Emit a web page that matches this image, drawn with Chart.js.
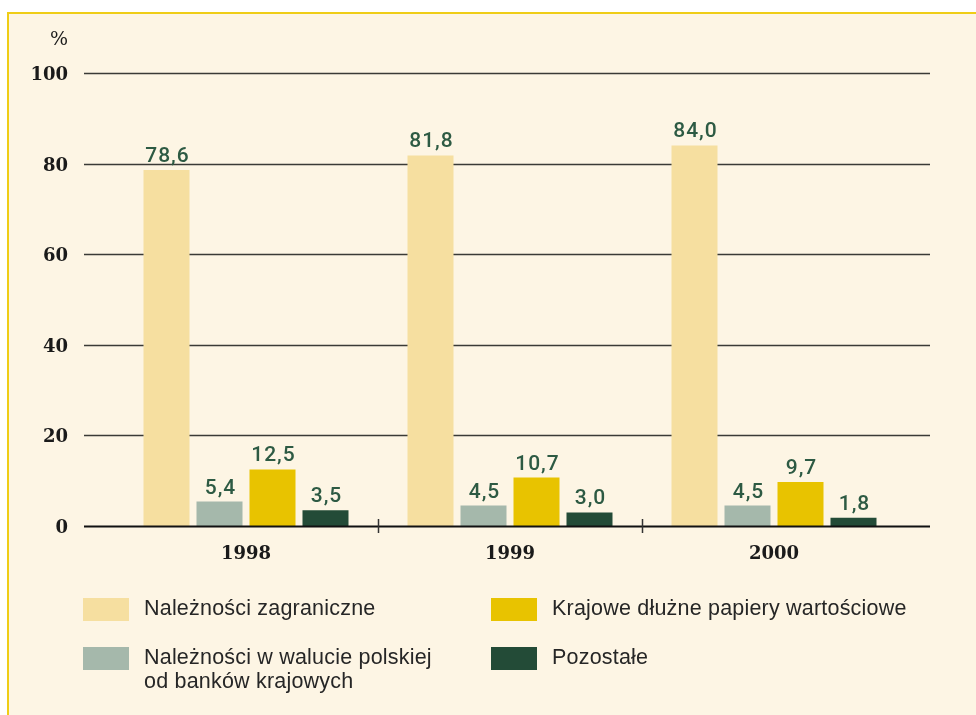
<!DOCTYPE html>
<html>
<head>
<meta charset="utf-8">
<script src="https://cdn.jsdelivr.net/npm/chart.js@4"></script>
<style>
  body { margin: 0; background: #fff; }
  canvas { display: block; }
</style>
</head>
<body>
<canvas id="myChart" width="976" height="715"></canvas>
<script>
// data
const years = ['1998', '1999', '2000'];
const zagraniczne = [78.6, 81.8, 84.0];
const walutaPolska = [5.4, 4.5, 4.5];
const dluzne = [12.5, 10.7, 9.7];
const pozostale = [3.5, 3.0, 1.8];
const yTicks = [0, 20, 40, 60, 80, 100];
const seriesNames = [
  'Należności zagraniczne',
  'Należności w walucie polskiej\nod banków krajowych',
  'Krajowe dłużne papiery wartościowe',
  'Pozostałe'
];

const SANS = '"Liberation Sans", Arial, sans-serif';
const SERIF = '"DejaVu Serif", "Liberation Serif", serif';

const fmt = (v) => v.toFixed(1).replace('.', ',');

const drawStuff = {
  id: 'drawStuff',
  beforeDraw(chart) {
    const ctx = chart.ctx;
    ctx.save();
    ctx.fillStyle = '#ffffff';
    ctx.fillRect(0, 0, chart.width, chart.height);
    ctx.fillStyle = '#fdf5e4';
    ctx.fillRect(7, 12, chart.width - 7, chart.height - 12);
    ctx.strokeStyle = '#efcd16';
    ctx.lineWidth = 2;
    ctx.beginPath();
    ctx.moveTo(8, chart.height);
    ctx.lineTo(8, 13);
    ctx.lineTo(chart.width, 13);
    ctx.stroke();
    ctx.restore();
  },
  beforeDatasetsDraw(chart) {
    const ctx = chart.ctx;
    const y = chart.scales.y;
    ctx.save();
    ctx.strokeStyle = '#3a3a36';
    ctx.lineWidth = 1.5;
    yTicks.forEach((t) => {
      if (t === 0) return;
      const py = Math.round(y.getPixelForValue(t)) + 0.5;
      ctx.beginPath();
      ctx.moveTo(84, py);
      ctx.lineTo(930, py);
      ctx.stroke();
    });
    // tick labels
    ctx.fillStyle = '#1a1a1a';
    ctx.font = 'bold 18px ' + SERIF;
    ctx.textAlign = 'right';
    ctx.textBaseline = 'alphabetic';
    yTicks.forEach((t) => {
      ctx.fillText(String(t), 68, y.getPixelForValue(t) + 7);
    });
    ctx.font = '19px ' + SERIF;
    ctx.fillText('%', 68, 45);
    ctx.restore();
  },
  afterDatasetsDraw(chart) {
    const ctx = chart.ctx;
    const x = chart.scales.x;
    const y = chart.scales.y;
    const zero = y.getPixelForValue(0);
    ctx.save();
    // zero axis
    ctx.strokeStyle = '#111';
    ctx.lineWidth = 2;
    ctx.beginPath();
    ctx.moveTo(84, zero + 0.5);
    ctx.lineTo(930, zero + 0.5);
    ctx.stroke();
    // separators between years
    ctx.lineWidth = 1.5;
    ctx.strokeStyle = '#333';
    for (let i = 1; i < years.length; i++) {
      const px = Math.round((x.getPixelForValue(i - 1) + x.getPixelForValue(i)) / 2) + 0.5;
      ctx.beginPath();
      ctx.moveTo(px, zero - 7);
      ctx.lineTo(px, zero + 7);
      ctx.stroke();
    }
    // year labels
    ctx.fillStyle = '#1a1a1a';
    ctx.font = 'bold 18px ' + SERIF;
    ctx.textAlign = 'center';
    ctx.textBaseline = 'alphabetic';
    years.forEach((yr, i) => {
      ctx.fillText(yr, x.getPixelForValue(i), 559);
    });
    // value labels
    ctx.fillStyle = '#2d5a43';
    ctx.font = '500 21px Roboto, ' + SANS;
    ctx.letterSpacing = '1px';
    chart.data.datasets.forEach((ds, di) => {
      const meta = chart.getDatasetMeta(di);
      meta.data.forEach((bar, i) => {
        ctx.fillText(fmt(ds.data[i]), bar.x + 1, bar.y - 8);
      });
    });
    // legend, two columns
    const slots = [
      { bx: 83, by: 598 },
      { bx: 83, by: 647 },
      { bx: 491, by: 598 },
      { bx: 491, by: 647 }
    ];
    ctx.textAlign = 'left';
    ctx.font = '21.5px ' + SANS;
    ctx.letterSpacing = '0.2px';
    chart.data.datasets.forEach((ds, di) => {
      const s = slots[di];
      ctx.fillStyle = ds.backgroundColor;
      ctx.fillRect(s.bx, s.by, 46, 23);
      ctx.fillStyle = '#262626';
      ds.label.split('\n').forEach((line, li) => {
        ctx.fillText(line, s.bx + 61, s.by + 17 + li * 24);
      });
    });
    ctx.restore();
  }
};

new Chart(document.getElementById('myChart'), {
  type: 'bar',
  data: {
    labels: years,
    datasets: [
      { label: seriesNames[0], data: zagraniczne, backgroundColor: '#f6dfa0' },
      { label: seriesNames[1], data: walutaPolska, backgroundColor: '#a5b8ab' },
      { label: seriesNames[2], data: dluzne, backgroundColor: '#e8c300' },
      { label: seriesNames[3], data: pozostale, backgroundColor: '#234b37' }
    ]
  },
  options: {
    responsive: false,
    devicePixelRatio: 1,
    animation: false,
    layout: { padding: { left: 114, right: 70, top: 73, bottom: 189 } },
    categoryPercentage: 0.803,
    barPercentage: 0.868,
    plugins: { legend: { display: false }, tooltip: { enabled: false } },
    scales: {
      x: { display: false },
      y: { display: false, min: 0, max: 100 }
    }
  },
  plugins: [drawStuff]
});
</script>
</body>
</html>
